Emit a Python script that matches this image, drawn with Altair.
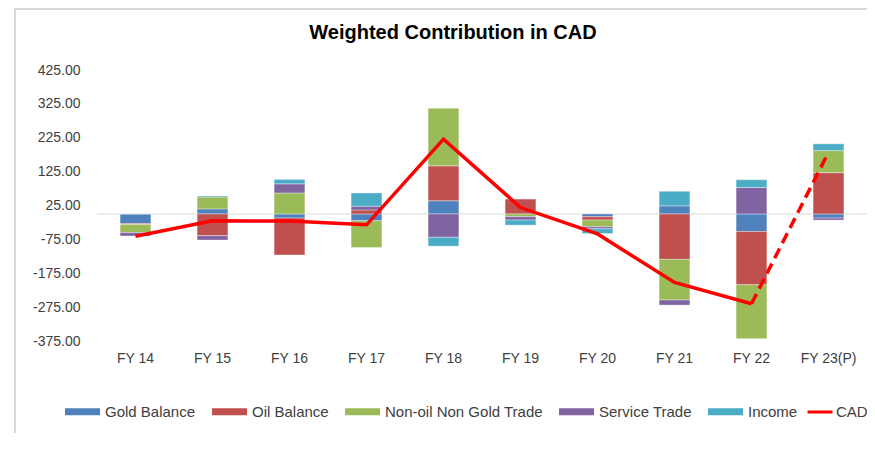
import altair as alt
import pandas as pd

years = ["FY 14", "FY 15", "FY 16", "FY 17", "FY 18", "FY 19", "FY 20", "FY 21", "FY 22", "FY 23(P)"]
series = ["Gold Balance", "Oil Balance", "Non-oil Non Gold Trade", "Service Trade", "Income"]
colors = ["#4F81BD", "#C0504D", "#9BBB59", "#8064A2", "#4BACC6"]

gold = [-28, 15, -12, -20, 39, 0, -8, 24, -52, -12]
oil = [-3, -64, -109, 12, 103, 44, -10, -134, -157, 122]
nonoil = [-24, 35, 62, -79, 170, -8, -20, -120, -159, 65]
service = [-10, -13, 27, 11, -69, -10, -6, -15, 78, -6]
income = [0, 3, 13, 39, -26, -15, -14, 43, 23, 20]
cad = [-66, -20, -21, -32, 221, 19, -59, -202, -265, 182]

y_ticks = [-375, -275, -175, -75, 25, 125, 225, 325, 425]
title_text = "Weighted Contribution in CAD"

rows = []
for si, (name, vals) in enumerate(zip(series, [gold, oil, nonoil, service, income])):
    for yr, v in zip(years, vals):
        rows.append({"Year": yr, "Series": name, "Value": v, "order": si})
bars_df = pd.DataFrame(rows)

line_df = pd.DataFrame({"Year": years, "Value": cad, "Name": "CAD"})
solid_df = line_df.iloc[:9]
dash_df = line_df.iloc[8:]

FONT = "Liberation Sans"
TXT = "#404040"

x_enc = alt.X("Year:N", sort=years, title=None,
              scale=alt.Scale(paddingInner=0.6, paddingOuter=0.3),
              axis=alt.Axis(domain=False, ticks=False, labelAngle=0, labelPadding=10,
                            labelFontSize=14, labelColor=TXT, labelFont=FONT))
y_scale = alt.Scale(domain=[-375, 425], nice=False, zero=False)
y_axis = alt.Axis(values=y_ticks, domain=False, ticks=False, grid=False, labelPadding=17,
                  labelFontSize=14, labelColor=TXT, labelFont=FONT, title=None,
                  labelExpr="replace(format(datum.value, '.2f'), '\u2212', '-')")

# chart-area frame (decoration)
frame = alt.Chart(pd.DataFrame({"f": [0]})).mark_rect(
    fillOpacity=0, stroke="#D9D9D9", strokeWidth=2
).encode(x=alt.value(-82), x2=alt.value(900), y=alt.value(-61), y2=alt.value(500))

# chart title (decoration, placed in the chart area like the original)
title = alt.Chart(pd.DataFrame({"t": [title_text]})).mark_text(
    fontSize=20, fontWeight="bold", font=FONT, color="#000000", align="center", baseline="middle"
).encode(text="t:N", x=alt.value(356), y=alt.value(-37))

zero_rule = alt.Chart(pd.DataFrame({"z": [0]})).mark_rule(color="#D9D9D9", strokeWidth=1).encode(
    y=alt.Y("z:Q", scale=y_scale, axis=y_axis, title=None)
)

bars = alt.Chart(bars_df).mark_bar(stroke="#ffffff", strokeWidth=0.6, strokeOpacity=0.6).encode(
    x=x_enc,
    y=alt.Y("Value:Q", stack="zero", scale=y_scale, axis=y_axis, title=None),
    color=alt.Color("Series:N", sort=series,
                    scale=alt.Scale(domain=series, range=colors),
                    legend=alt.Legend(title=None, orient="none", direction="horizontal", columns=5,
                                      legendX=-32, legendY=324, padding=0,
                                      symbolType="M-1,-0.2H1V0.2H-1Z", symbolSize=1225,
                                      symbolStrokeWidth=0, labelOffset=5, columnPadding=16,
                                      labelFontSize=15, labelColor=TXT, labelFont=FONT)),
    order=alt.Order("order:Q", sort="ascending"),
)

solid = alt.Chart(solid_df).mark_line(strokeWidth=3.5, strokeJoin="miter").encode(
    x=alt.X("Year:N", sort=years),
    y=alt.Y("Value:Q", scale=y_scale, axis=y_axis, title=None),
    stroke=alt.Stroke("Name:N", scale=alt.Scale(domain=["CAD"], range=["#FF0000"]),
                      legend=alt.Legend(title=None, orient="none", legendX=709, legendY=328,
                                        padding=0, symbolType="stroke", symbolSize=625,
                                        symbolStrokeWidth=3, labelOffset=2,
                                        labelFontSize=15, labelColor=TXT, labelFont=FONT)),
)

dashed = alt.Chart(dash_df).mark_line(strokeWidth=3.5, strokeDash=[11, 6], color="#FF0000").encode(
    x=alt.X("Year:N", sort=years),
    y=alt.Y("Value:Q", scale=y_scale, axis=y_axis, title=None),
)

chart = alt.layer(frame, title, zero_rule, bars, solid, dashed).resolve_scale(color="independent").properties(
    width=770, height=271,
    background="#ffffff",
    autosize=alt.AutoSizeParams(type="none"),
    padding={"left": 89, "top": 62, "right": 0, "bottom": 92},
).configure_view(stroke=None)

chart.save("out.html", embed_options={"renderer": "svg", "actions": False})
